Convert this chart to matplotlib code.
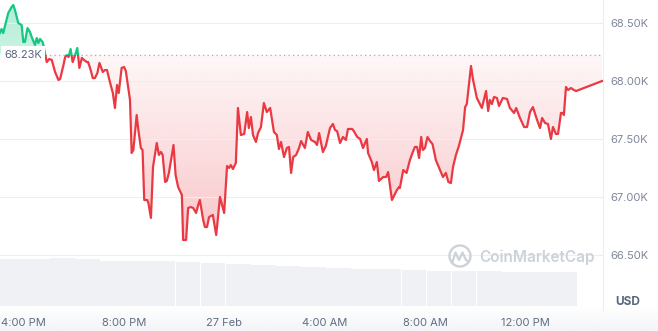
import matplotlib
matplotlib.use('Agg')

import numpy as np
import pandas as pd
import matplotlib.pyplot as plt
import matplotlib.dates as mdates
from matplotlib.patches import Rectangle, Circle
from matplotlib.path import Path
from matplotlib.ticker import FuncFormatter

plt.rcParams['font.family'] = ['Inter', 'DejaVu Sans']

# ---- data ----
start = pd.Timestamp('2024-02-26 15:00')

# minutes after 15:00 on 26 Feb
minutes = [4, 8, 12, 24, 32, 36, 40, 48, 56, 60, 64, 70, 76, 80, 88, 92, 96, 100, 106, 108,
           114, 116, 122, 128, 136, 144, 148, 156, 160, 164, 168, 173, 178, 184, 189, 194, 200, 205, 212, 215,
           221, 226, 231, 237, 242,
           250, 255, 260, 267, 274, 279, 284, 288, 295, 301, 305, 311, 315, 319, 323, 331, 335, 341, 345, 349,
           356, 359, 365, 370, 379, 384, 389, 393, 399, 403, 408, 414, 419, 424, 430, 439, 442, 449, 454, 460,
           466, 473, 478, 482,
           490, 494, 499, 504, 513, 521, 524, 530, 540, 547, 552, 556, 561, 568, 573, 580, 588, 595, 599, 604,
           609, 616, 621, 628, 635, 642, 650, 659, 666, 671, 676, 683, 690, 695, 700, 705, 712, 719, 724, 733,
           740, 748, 757, 762, 767, 776, 783, 793, 800, 805, 810, 817, 824, 831, 836, 846, 850, 858, 865, 872,
           881, 884, 893, 898, 905, 910, 920, 927, 932, 941, 953, 958,
           960, 968, 976, 984, 991, 996, 1001, 1006, 1011, 1015, 1020, 1026, 1032, 1038, 1046, 1056, 1063, 1070,
           1076, 1082,
           1087, 1094, 1101, 1111, 1116, 1120, 1130, 1135, 1144, 1156, 1166, 1171, 1175, 1180, 1185, 1192, 1197,
           1206, 1216, 1223, 1233, 1238, 1247, 1257, 1264, 1271, 1278, 1288, 1295, 1300, 1307, 1314, 1321, 1326,
           1333, 1338, 1345, 1350, 1352, 1357, 1362, 1369, 1376, 1381, 1443]

price = [68416, 68451, 68416, 68589, 68640, 68658, 68615, 68502, 68485, 68339, 68339, 68459, 68425, 68382,
         68313, 68373, 68330, 68365, 68339, 68313, 68201, 68166, 68192, 68184, 68080, 68011, 68020, 68140,
         68209, 68227, 68209, 68278, 68166, 68227, 68287, 68115, 68201, 68184, 68166, 68166, 68097, 68028,
         68028, 68071, 68158,
         68080, 68097, 68097, 67994, 67899, 67770, 67968, 67899, 68115, 68123, 68089, 67942, 67839, 67382,
         67408, 67709, 67580, 67425, 67408, 66977, 66977, 66951, 66822, 67261, 67468, 67365, 67391, 67365,
         67132, 67141, 67210, 67339, 67451, 67192, 67089, 67020, 66632, 66632, 66908, 66916, 66908, 66865,
         66934, 66977,
         66804, 66744, 66744, 66830, 66848, 66675, 66779, 67003, 66865, 67270, 67253, 67278, 67244, 67296,
         67770, 67537, 67546, 67735, 67597, 67692, 67537, 67477, 67554, 67606, 67813, 67735, 67770, 67563,
         67537, 67416, 67477, 67347, 67425, 67434, 67210, 67347, 67365, 67425, 67485, 67425, 67563, 67494,
         67477, 67451, 67554, 67390, 67442, 67597, 67632, 67580, 67571, 67468, 67520, 67494, 67589, 67589,
         67571, 67520, 67503, 67425, 67503, 67382, 67304, 67235, 67304, 67141, 67175, 67175, 67218, 66977,
         67063, 67089,
         67080, 67235, 67210, 67321, 67391, 67434, 67434, 67339, 67520, 67408, 67425, 67520, 67485, 67459,
         67321, 67235, 67175, 67210, 67132, 67123,
         67261, 67365, 67442, 67580, 67778, 67804, 68132, 68011, 67856, 67770, 67916, 67744, 67839, 67804,
         67865, 67856, 67787, 67856, 67848, 67770, 67727, 67770, 67684, 67606, 67606, 67735, 67778, 67666,
         67597, 67684, 67640, 67632, 67503, 67606, 67546, 67546, 67727, 67727, 67709, 67951, 67925, 67942,
         67925, 67916, 68002]

baseline = 68230

# 24h volume, billions USD, hourly bars
vol_times = pd.date_range('2024-02-26 15:04', periods=23, freq='h')
volume = [35.2, 35.6, 36.0, 35.3, 34.1, 33.8, 33.4, 33.0, 32.3, 31.5, 30.8, 30.0, 29.6, 28.5,
          27.8, 27.4, 27.0, 26.6, 26.3, 25.9, 25.5, 25.5, 25.5]

xtick_times = ['2024-02-26 16:00', '2024-02-26 20:00', '2024-02-27 00:00',
               '2024-02-27 04:00', '2024-02-27 08:00', '2024-02-27 12:00']
xtick_labels = ['4:00 PM', '8:00 PM', '27 Feb', '4:00 AM', '8:00 AM', '12:00 PM']
yticks = [66500, 67000, 67500, 68000, 68500]

RED = '#ea3943'
GREEN = '#16c784'
GRID = '#eceef1'

# ---- figure ----
W, H = 658, 331
fig = plt.figure(figsize=(W / 100, H / 100), dpi=100)
fig.patch.set_facecolor('white')

ax = fig.add_axes([0, 1 - 310 / H, 603 / W, 310 / H])
vax = fig.add_axes([0, 1 - 306 / H, 603 / W, 60 / H])
vax.set_zorder(1)
ax.set_zorder(2)
ax.patch.set_visible(False)

t = mdates.date2num((start + pd.to_timedelta(minutes, unit='min')).to_pydatetime())
p = np.array(price, dtype=float)

x0 = mdates.date2num(start + pd.Timedelta(minutes=4.3))
x1 = mdates.date2num(start + pd.Timedelta(minutes=1445.5))
y0, y1 = 66028.6, 68700.8

# volume bars
vt = mdates.date2num(vol_times.to_pydatetime())
vax.bar(vt, volume, width=(1 / 24) * 0.985, align='edge', color='#eff1f4', linewidth=0)
vax.set_xlim(x0, x1)
vax.set_ylim(0, 45)
vax.axis('off')

# soft band behind the time labels
band = fig.add_axes([0, 0, 1, 25 / H])
band.set_zorder(0)
band_img = np.ones((32, 1, 4))
band_img[:, 0, :3] = matplotlib.colors.to_rgb('#f3f5f8')
band_img[:, 0, 3] = np.linspace(1.0, 0.0, 32)
band.imshow(band_img, extent=[0, 1, 0, 1], origin='lower', aspect='auto', interpolation='bilinear')
band.axis('off')

# gradient fills clipped to area between line and baseline
def grad_fill(mask_below, color, a_lo, a_hi, ylo, yhi):
    if mask_below:
        coll = ax.fill_between(t, p, baseline, where=p <= baseline, interpolate=True,
                               facecolor='none', edgecolor='none')
    else:
        coll = ax.fill_between(t, p, baseline, where=p >= baseline, interpolate=True,
                               facecolor='none', edgecolor='none')
    path = Path.make_compound_path(*coll.get_paths())
    coll.remove()
    rgb = matplotlib.colors.to_rgb(color)
    n = 256
    img = np.zeros((n, 1, 4))
    img[:, 0, :3] = rgb
    img[:, 0, 3] = np.linspace(a_lo, a_hi, n)  # bottom -> top
    im = ax.imshow(img, extent=[x0, x1, ylo, yhi], origin='lower', aspect='auto',
                   interpolation='bilinear', zorder=1)
    im.set_clip_path(path, ax.transData)

grad_fill(True, RED, 0.38, 0.04, y0, baseline)
grad_fill(False, GREEN, 0.22, 0.34, baseline, y1)

# price line, red below / green above baseline
red_line, = ax.plot(t, p, color=RED, lw=1.6, solid_joinstyle='round', zorder=3)
red_line.set_clip_path(Rectangle((x0 - 1, y0 - 1000), x1 - x0 + 2, baseline - y0 + 1000,
                                 transform=ax.transData))
green_line, = ax.plot(t, p, color=GREEN, lw=1.6, solid_joinstyle='round', zorder=3)
green_line.set_clip_path(Rectangle((x0 - 1, baseline), x1 - x0 + 2, 2000,
                                   transform=ax.transData))

# baseline
ax.axhline(baseline, xmin=45 / 603, xmax=1, color='#a3aab8', lw=0.9,
           linestyle=(0, (1, 2.6)), zorder=2)
ax.text(0.007, baseline, '68.23K', transform=ax.get_yaxis_transform(), ha='left', va='center',
        fontsize=8, color='#58667e', zorder=5,
        bbox=dict(facecolor='white', edgecolor='none', boxstyle='square,pad=0.3'))

ax.set_xlim(x0, x1)
ax.set_ylim(y0, y1)

ax.set_xticks(mdates.date2num(pd.to_datetime(xtick_times).to_pydatetime()))
ax.set_xticklabels(xtick_labels)
ax.tick_params(axis='x', length=0, pad=6, labelsize=8, labelcolor='#616e85')

ax.yaxis.tick_right()
ax.set_yticks(yticks)
ax.yaxis.set_major_formatter(FuncFormatter(lambda v, pos: f'{v / 1000:.2f}K'))
ax.tick_params(axis='y', length=0, pad=5, labelsize=8, labelcolor='#7d8799')

ax.grid(axis='y', color=GRID, lw=0.8, zorder=0)
ax.grid(axis='x', visible=False)
for side in ['top', 'left', 'bottom']:
    ax.spines[side].set_visible(False)
ax.spines['right'].set_color(GRID)
ax.spines['right'].set_linewidth(0.8)

fig.text(628 / W, 1 - 302 / H, 'USD', ha='center', va='center', fontsize=8.5,
         fontweight='bold', color='#58667e')

# watermark
deco = fig.add_axes([0, 0, 1, 1])
deco.set_zorder(3)
deco.set_xlim(0, W)
deco.set_ylim(H, 0)
deco.axis('off')
deco.patch.set_visible(False)
wm = '#cdd1d8'
deco.add_patch(Circle((460, 256), 10.5, fill=False, edgecolor=wm, lw=1.7))
deco.plot([452.5, 455.5, 459, 462.5, 466, 468.5], [262, 252.5, 260, 252.5, 260, 261.5],
          color=wm, lw=1.6, solid_joinstyle='round', solid_capstyle='round')
deco.text(479, 257, 'CoinMarketCap', ha='left', va='center', fontsize=11,
          fontweight='semibold', color=wm)

fig.savefig('out.png', dpi=100, facecolor='white')
